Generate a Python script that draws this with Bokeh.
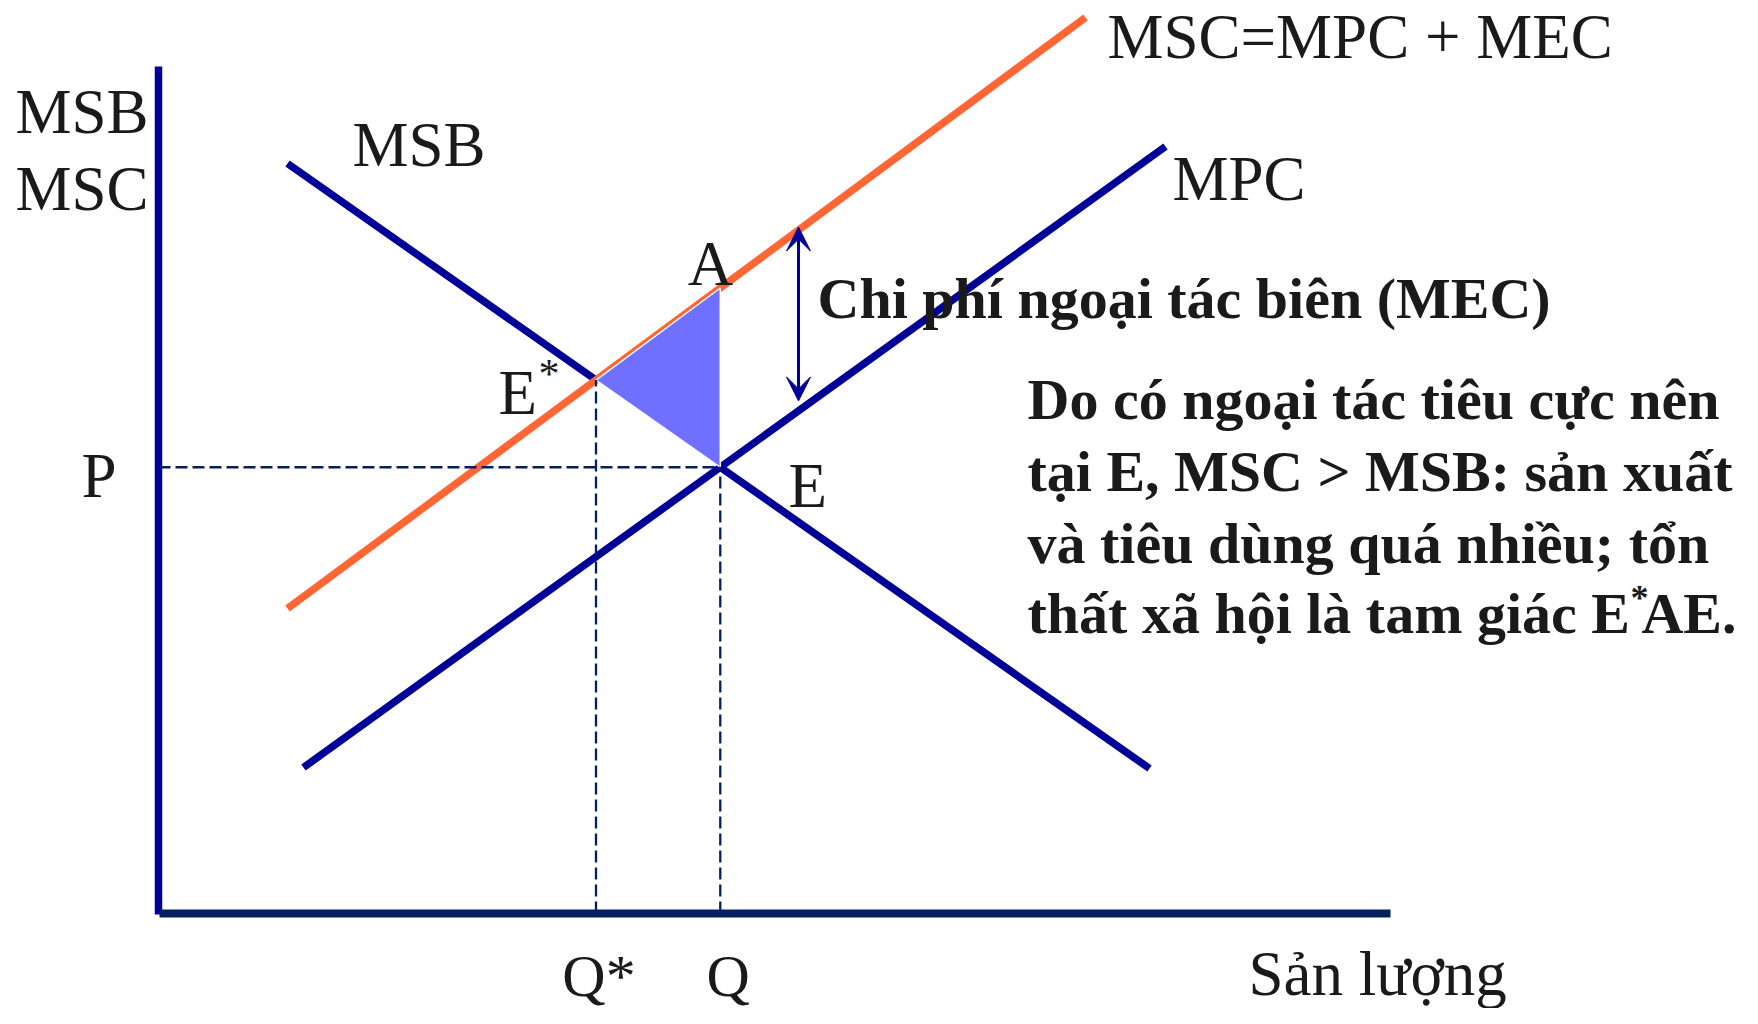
from bokeh.plotting import figure
from bokeh.models import Range1d, Arrow, VeeHead, Label
from bokeh.embed import file_html
from bokeh.resources import INLINE

# ---- data (economic diagram, arbitrary units) ----
MSB_X = [12.9, 99.1]
MSB_Y = [75.0, 14.5]
MPC_X = [14.5, 100.7]
MPC_Y = [14.6, 76.7]
MSC_X = [12.9, 92.7]
MSC_Y = [30.5, 89.6]
AXIS_X_MAX = 123.2
AXIS_Y_MAX = 84.7
MEC_ARROW_X = 64.0

NAVY = "#000099"
DARK = "#002060"
ORANGE = "#FF6633"
FILLC = "#7070FF"
TXT = "#1a1a1a"
FONT = "Liberation Serif"


def slope_icpt(xs, ys):
    m = (ys[1] - ys[0]) / (xs[1] - xs[0])
    return m, ys[0] - m * xs[0]


def at(xs, ys, x):
    m, b = slope_icpt(xs, ys)
    return m * x + b


def intersect(ax, ay, bx, by):
    m1, b1 = slope_icpt(ax, ay)
    m2, b2 = slope_icpt(bx, by)
    x = (b2 - b1) / (m1 - m2)
    return x, m1 * x + b1


ex, ey = intersect(MSB_X, MSB_Y, MPC_X, MPC_Y)        # E
esx, esy = intersect(MSB_X, MSB_Y, MSC_X, MSC_Y)      # E*
ax_, ay_ = ex, at(MSC_X, MSC_Y, ex)                   # A

p = figure(width=1742, height=1008, output_backend="svg", toolbar_location=None,
           x_range=Range1d(-15.8, 158.4), y_range=Range1d(-9.5, 91.3),
           x_axis_type=None, y_axis_type=None, min_border=0)
p.outline_line_color = None
p.xgrid.visible = False
p.ygrid.visible = False

LW = 7.5
p.line(MPC_X, MPC_Y, line_color=NAVY, line_width=LW)
p.line([MSB_X[0], esx], [MSB_Y[0], esy], line_color=NAVY, line_width=LW)
p.line([ex, MSB_X[1]], [ey, MSB_Y[1]], line_color=NAVY, line_width=LW)
p.line(MSC_X, MSC_Y, line_color=ORANGE, line_width=LW)

p.patch([esx, ax_, ex], [esy, ay_, ey], fill_color=FILLC, line_color="white", line_width=1.5)

DASH = "12 5"
p.line([0, ex], [ey, ey], line_color=DARK, line_width=2.3, line_dash=DASH)
p.line([esx, esx], [0, esy], line_color=DARK, line_width=2.3, line_dash=DASH)
p.line([ex, ex], [0, ey], line_color=DARK, line_width=2.3, line_dash=DASH)

# axes
p.line([0, 0], [-0.1, AXIS_Y_MAX], line_color=NAVY, line_width=7.5)
p.line([0.1, AXIS_X_MAX], [0, 0], line_color=DARK, line_width=8)

# MEC arrow
y_top = at(MSC_X, MSC_Y, MEC_ARROW_X)
y_bot = at(MPC_X, MPC_Y, MEC_ARROW_X)
p.add_layout(Arrow(x_start=MEC_ARROW_X, y_start=y_bot + 1.0, x_end=MEC_ARROW_X, y_end=y_top + 0.3,
                   line_color=NAVY, line_width=3,
                   start=VeeHead(size=24, fill_color=NAVY, line_color=NAVY, line_width=1),
                   end=VeeHead(size=24, fill_color=NAVY, line_color=NAVY, line_width=1)))


def lab(x, y, t, size=63, bold=False, align="left"):
    p.add_layout(Label(x=x, y=y, text=t, text_font=FONT, text_font_size=f"{size}px",
                       text_font_style="bold" if bold else "normal", text_color=TXT,
                       text_align=align, text_baseline="alphabetic"))


lab(-14.3, 80.2, "MSB")
lab(-14.3, 72.5, "MSC")
lab(19.4, 76.9, "MSB")
lab(94.9, 87.7, "MSC=MPC + MEC")
lab(101.4, 73.5, "MPC")
lab(55.2, 65.0, "A", align="center")
lab(34.0, 52.1, "E")
lab(38.0, 54.0, "*", size=42)
lab(-7.7, 43.8, "P")
lab(63.0, 42.8, "E")
lab(65.9, 61.5, "Chi phí ngoại tác biên (MEC)", size=58, bold=True)

PARA = ["Do có ngoại tác tiêu cực nên",
        "tại E, MSC > MSB: sản xuất",
        "và tiêu dùng quá nhiều; tổn"]
PARA_Y = [51.37, 44.2, 37.03]
for t, yy in zip(PARA, PARA_Y):
    lab(86.9, yy, t, size=58, bold=True)
lab(86.9, 29.97, "thất xã hội là tam giác E", size=58, bold=True)
lab(147.2, 31.6, "*", size=36, bold=True)
lab(157.8, 29.97, "AE.", size=58, bold=True, align="right")

lab(esx + 0.3, -6.2, "Q*", size=60, align="center")
lab(ex + 0.8, -6.2, "Q", size=60, align="center")
lab(109.0, -6.0, "Sản lượng")

open("out.html", "w").write(file_html(p, INLINE))
